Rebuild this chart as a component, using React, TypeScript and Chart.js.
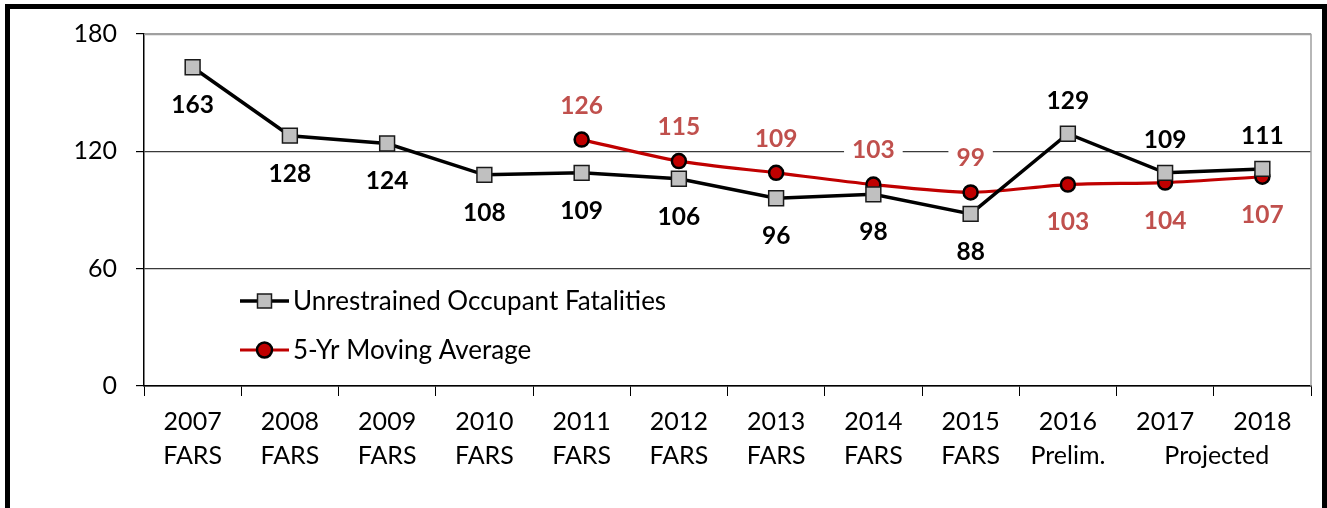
import React, { useEffect, useRef } from 'react';
import { Chart, registerables } from 'chart.js';

Chart.register(...registerables);

// ---- data ----
const years = ['2007', '2008', '2009', '2010', '2011', '2012', '2013', '2014', '2015', '2016', '2017', '2018'];
const yearNotes = ['FARS', 'FARS', 'FARS', 'FARS', 'FARS', 'FARS', 'FARS', 'FARS', 'FARS', 'Prelim.', '', ''];
const projectedNote = 'Projected';
const fatalities = [163, 128, 124, 108, 109, 106, 96, 98, 88, 129, 109, 111];
const movingAverage = [null, null, null, null, 126, 115, 109, 103, 99, 103, 104, 107];
const yTickValues = [0, 60, 120, 180];
const seriesNames = ['Unrestrained Occupant Fatalities', '5-Yr Moving Average'];

const FONT = 'Lato, "Liberation Sans", sans-serif';
const TICK_SIZE = 25;

const valueLabelsPlugin = {
  id: 'valueLabels',
  afterDatasetsDraw(chart: any, _args: any, opts: any) {
    const ctx = chart.ctx;
    chart.data.datasets.forEach((ds: any, di: number) => {
      const cfg = opts.sets[di];
      const meta = chart.getDatasetMeta(di);
      meta.data.forEach((pt: any, i: number) => {
        const v = ds.data[i];
        if (v == null) return;
        const above = cfg.above(i);
        const y = pt.y + (above ? -cfg.offAbove : cfg.offBelow);
        const text = String(v);
        ctx.save();
        ctx.font = `bold ${cfg.size}px ${FONT}`;
        const w = ctx.measureText(text).width;
        ctx.fillStyle = '#ffffff';
        ctx.fillRect(pt.x - w / 2 - 8, y - 11, w + 16, 22);
        ctx.fillStyle = cfg.color;
        ctx.textAlign = 'center';
        ctx.textBaseline = 'middle';
        ctx.fillText(text, pt.x, y + 1);
        ctx.restore();
      });
    });
  },
};

const framePlugin = {
  id: 'plotFrame',
  beforeDatasetsDraw(chart: any) {
    const { ctx, chartArea } = chart;
    ctx.save();
    ctx.strokeStyle = '#a0a0a0';
    ctx.lineWidth = 1.5;
    ctx.beginPath();
    ctx.moveTo(chartArea.left, chartArea.top + 0.5);
    ctx.lineTo(chartArea.right, chartArea.top + 0.5);
    ctx.lineTo(chartArea.right, chartArea.bottom);
    ctx.stroke();
    ctx.restore();
  },
};

const innerLegendPlugin = {
  id: 'innerLegend',
  afterDraw(chart: any, _args: any, opts: any) {
    const ctx = chart.ctx;
    chart.data.datasets.forEach((ds: any, di: number) => {
      const y = opts.y + di * opts.gap;
      const x0 = opts.x;
      const x1 = opts.x + opts.lineLen;
      const cx = (x0 + x1) / 2;
      ctx.save();
      ctx.strokeStyle = ds.borderColor;
      ctx.lineWidth = ds.borderWidth;
      ctx.beginPath();
      ctx.moveTo(x0, y);
      ctx.lineTo(x1, y);
      ctx.stroke();
      ctx.fillStyle = ds.pointBackgroundColor;
      ctx.strokeStyle = ds.pointBorderColor;
      ctx.lineWidth = ds.pointBorderWidth;
      ctx.beginPath();
      if (ds.pointStyle === 'rect') {
        const s = 7;
        ctx.rect(cx - s, y - s, 2 * s, 2 * s);
      } else {
        ctx.arc(cx, y, 7.5, 0, Math.PI * 2);
      }
      ctx.fill();
      ctx.stroke();
      ctx.fillStyle = '#000';
      ctx.font = `${opts.size}px ${FONT}`;
      ctx.textAlign = 'left';
      ctx.textBaseline = 'middle';
      ctx.fillText(ds.label, x1 + 4, y + 1);
      ctx.restore();
    });
  },
};

const projectedPlugin = {
  id: 'projectedNote',
  afterDraw(chart: any) {
    const xs = chart.scales.x;
    const ctx = chart.ctx;
    const items = typeof xs.getLabelItems === 'function' ? xs.getLabelItems() : null;
    const i1 = years.length - 2;
    const i2 = years.length - 1;
    const xm = (xs.getPixelForValue(i1) + xs.getPixelForValue(i2)) / 2 + 3;
    ctx.save();
    ctx.font = `${TICK_SIZE}px ${FONT}`;
    ctx.fillStyle = '#000';
    ctx.textAlign = 'center';
    if (items && items[i1]) {
      const it = items[i1];
      const lh = it.font ? it.font.lineHeight : TICK_SIZE * 1.35;
      ctx.textBaseline = it.options.textBaseline || 'middle';
      ctx.fillText(projectedNote, xm, it.options.translation[1] + it.textOffset + lh);
    } else {
      ctx.textBaseline = 'middle';
      ctx.fillText(projectedNote, xm, xs.top + 60);
    }
    ctx.restore();
  },
};

export default function App() {
  const ref = useRef<HTMLCanvasElement>(null);

  useEffect(() => {
    if (!ref.current) return;
    const labels = years.map((y, i) => [y, yearNotes[i]]);
    const chart = new Chart(ref.current, {
      type: 'line',
      data: {
        labels,
        datasets: [
          {
            label: seriesNames[0],
            data: fatalities,
            borderColor: '#000000',
            borderWidth: 3.5,
            pointStyle: 'rect',
            pointRadius: 10.5,
            pointHoverRadius: 10.5,
            pointBackgroundColor: '#c0c0c0',
            pointBorderColor: '#1a1a1a',
            pointBorderWidth: 1.5,
            tension: 0,
          },
          {
            label: seriesNames[1],
            data: movingAverage,
            borderColor: '#c00000',
            borderWidth: 3.2,
            pointStyle: 'circle',
            pointRadius: 7,
            pointHoverRadius: 7,
            pointBackgroundColor: '#c00000',
            pointBorderColor: '#000000',
            pointBorderWidth: 2.5,
            tension: 0.25,
            spanGaps: false,
          },
        ],
      } as any,
      options: {
        animation: false,
        responsive: false,
        devicePixelRatio: 1,
        layout: { padding: { left: 0, right: 16, top: 33, bottom: 0 } },
        font: { family: FONT },
        plugins: {
          legend: { display: false },
          tooltip: { enabled: false },
          valueLabels: {
            sets: [
              { color: '#000000', size: 24.5, offAbove: 34, offBelow: 37, above: (i: number) => i >= 9 },
              { color: '#c0504d', size: 24.5, offAbove: 35, offBelow: 37, above: (i: number) => i <= 8 },
            ],
          },
          innerLegend: { x: 240, y: 301, gap: 49, lineLen: 49, size: 26 },
        } as any,
        scales: {
          x: {
            offset: true,
            grid: {
              display: true,
              drawOnChartArea: false,
              drawTicks: true,
              tickLength: 10,
              color: '#000',
              offset: true,
            },
            border: { display: true, color: '#000', width: 1.5 },
            ticks: {
              color: '#000',
              font: { family: FONT, size: TICK_SIZE, lineHeight: 1.35 },
              padding: 9,
              maxRotation: 0,
              autoSkip: false,
            },
            afterFit: (s: any) => {
              s.height = 122;
            },
          },
          y: {
            min: 0,
            max: 180,
            afterBuildTicks: (s: any) => {
              s.ticks = yTickValues.map((v) => ({ value: v }));
            },
            grid: {
              color: (c: any) => (c.tick && c.tick.value === 180 ? '#a0a0a0' : c.tick && c.tick.value === 0 ? '#000' : '#3a3a3a'),
              lineWidth: 1.2,
              drawTicks: true,
              tickLength: 8,
              tickColor: '#000',
            },
            border: { display: true, color: '#000', width: 1.5 },
            ticks: {
              color: '#000',
              font: { family: FONT, size: TICK_SIZE },
              padding: 19,
            },
            afterFit: (s: any) => {
              s.width = 144;
            },
          },
        },
      },
      plugins: [framePlugin, valueLabelsPlugin, innerLegendPlugin, projectedPlugin],
    });
    return () => chart.destroy();
  }, []);

  return (
    <div style={{ position: 'fixed', left: 0, top: 0, width: 1327, height: 508, overflow: 'hidden', background: '#fff' }}>
      <div
        style={{
          position: 'absolute',
          left: 5,
          top: 4,
          width: 1322,
          height: 520,
          boxSizing: 'border-box',
          border: '5px solid #000',
          borderBottomColor: '#999',
        }}
      />
      <canvas ref={ref} width={1327} height={508} style={{ position: 'absolute', left: 0, top: 0, width: 1327, height: 508 }} />
    </div>
  );
}
